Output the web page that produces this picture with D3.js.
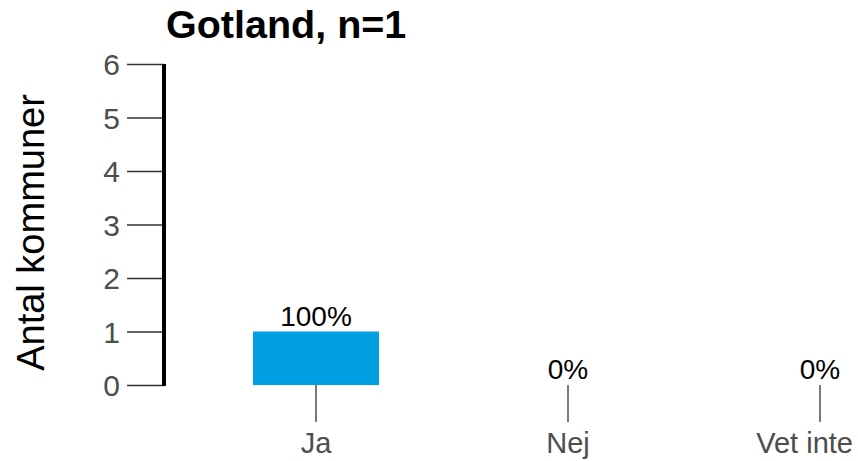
<!DOCTYPE html>
<html>
<head>
<meta charset="utf-8">
<script src="https://cdn.jsdelivr.net/npm/d3@7"></script>
<style>
  body { margin: 0; background: #fff; }
  text { font-family: "Liberation Sans", Arial, sans-serif; }
</style>
</head>
<body>
<script>
// data
const categories = ["Ja", "Nej", "Vet inte"];
const counts = [1, 0, 0];
const percentLabels = ["100%", "0%", "0%"];
const yTicks = [0, 1, 2, 3, 4, 5, 6];
const chartTitle = "Gotland, n=1";
const yTitle = "Antal kommuner";

const svgSize = {width: 858, height: 461};

let svg = d3.select("body")
            .append("svg")
            .attr("width", svgSize.width)
            .attr("height", svgSize.height);

// scales
let x = d3.scaleBand()
          .domain(categories)
          .range([190, 946])
          .paddingInner(0.5)
          .paddingOuter(0.25);

let y = d3.scaleLinear()
          .domain([0, 6])
          .range([385, 64]);

// bars
svg.selectAll(".bar")
   .data(categories)
   .enter()
   .append("rect")
   .attr("class", "bar")
   .attr("x", d => x(d))
   .attr("width", x.bandwidth())
   .attr("y", (d, i) => y(counts[i]))
   .attr("height", (d, i) => y(0) - y(counts[i]))
   .attr("fill", "#009FE3");

// value labels
svg.selectAll(".val")
   .data(categories)
   .enter()
   .append("text")
   .attr("class", "val")
   .attr("x", d => x(d) + x.bandwidth() / 2)
   .attr("y", (d, i) => y(counts[i]) - 6)
   .attr("text-anchor", "middle")
   .style("font-size", "28px")
   .attr("fill", "#000")
   .text((d, i) => percentLabels[i]);

// y axis
let yAxis = svg.append("g")
   .attr("transform", "translate(164,0)")
   .call(d3.axisLeft(y).tickValues(yTicks).tickFormat(d3.format("d")).tickSize(37).tickPadding(7));
yAxis.select(".domain").remove();
yAxis.selectAll(".tick line").attr("stroke", "#333").attr("stroke-width", 1.3);
yAxis.selectAll(".tick text")
     .attr("fill", "#4d4d4d")
     .style("font-size", "30px")
     .attr("dy", "0.36em");
svg.append("line")
   .attr("x1", 164).attr("x2", 164)
   .attr("y1", y(6)).attr("y2", y(0) + 1)
   .attr("stroke", "#000")
   .attr("stroke-width", 4);

// x axis (ticks only)
let xAxis = svg.append("g")
   .attr("transform", `translate(0,${y(0)})`)
   .call(d3.axisBottom(x).tickSize(37).tickPadding(8));
xAxis.select(".domain").remove();
xAxis.selectAll(".tick line").attr("stroke", "#333").attr("stroke-width", 1.3);
xAxis.selectAll(".tick text")
     .attr("fill", "#4d4d4d")
     .style("font-size", "29px")
     .attr("y", 68)
     .attr("dy", 0)
     .each(function () {
        // keep labels inside the picture
        let b = this.getBBox();
        let over = b.x + b.width - 853 + d3.select(this.parentNode).attr("transform").match(/translate\(([-\d.]+)/)[1] * 1;
        if (over > 0) d3.select(this).attr("x", -over);
     });

// title
svg.append("text")
   .attr("x", 166)
   .attr("y", 38)
   .style("font-size", "39.5px")
   .style("font-weight", "bold")
   .attr("fill", "#000")
   .text(chartTitle);

// y axis title
svg.append("text")
   .attr("transform", `translate(44,${(y(0) + y(6)) / 2 + 8}) rotate(-90)`)
   .attr("text-anchor", "middle")
   .style("font-size", "38px")
   .attr("fill", "#000")
   .text(yTitle);
</script>
</body>
</html>
